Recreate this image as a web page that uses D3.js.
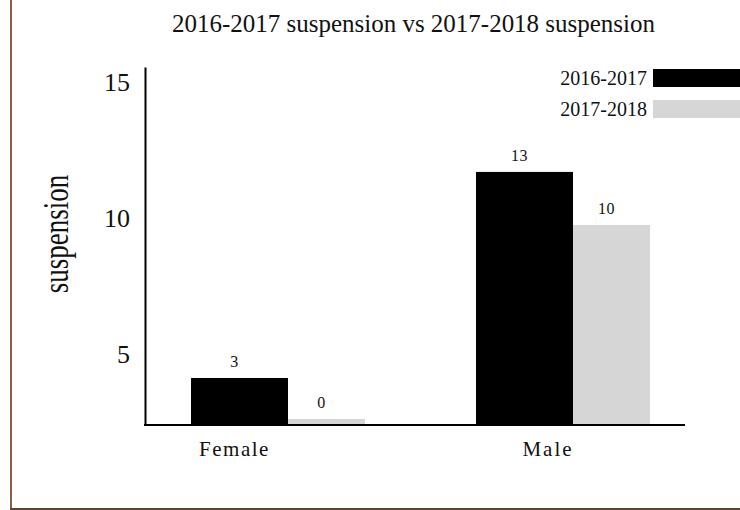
<!DOCTYPE html>
<html>
<head>
<meta charset="utf-8">
<script src="https://cdn.jsdelivr.net/npm/d3@7"></script>
<style>
  html, body { margin: 0; padding: 0; background: #fff; }
  svg { display: block; font-family: 'Liberation Serif', 'Times New Roman', serif; }
</style>
</head>
<body>
<div id="chart" data-js-graph></div>
<script>
// data
const categories = ['Female', 'Male'];
const seriesNames = ['2016-2017', '2017-2018'];
// bar heights as read against the y axis
const values2016 = [4.11, 11.69];
const values2017 = [2.6, 9.74];
// numbers printed above the bars
const labels2016 = ['3', '13'];
const labels2017 = ['0', '10'];
const yTicks = [5, 10, 15];

const SETTING = {
  width: 740,
  height: 510,
  colors: ['#000000', '#d6d6d6'],
  barWidths: [97, 77],
};

const graphWrapper = d3.select('[data-js-graph]');

const svg = graphWrapper.append('svg')
  .attr('width', SETTING.width)
  .attr('height', SETTING.height);

svg.append('rect')
  .attr('width', SETTING.width)
  .attr('height', SETTING.height)
  .attr('fill', '#fff');

// frame: brown line on the left, dark line at the bottom
svg.append('rect')
  .attr('x', 10)
  .attr('y', 0)
  .attr('width', 2)
  .attr('height', 510)
  .attr('fill', '#8c5f3f');
svg.append('rect')
  .attr('x', 10)
  .attr('y', 508)
  .attr('width', 730)
  .attr('height', 2)
  .attr('fill', '#5b4232');

// scales
const y = d3.scaleLinear()
  .domain([2.38, 15.55])
  .range([425, 67]);

const x = d3.scaleBand()
  .domain(categories)
  .range([191, 761])
  .padding(0);

const xLabel = d3.scalePoint()
  .domain(categories)
  .range([234.5, 548]);

// y axis
const yAxis = svg.append('g')
  .attr('transform', 'translate(145,0)')
  .call(d3.axisLeft(y)
    .tickValues(yTicks)
    .tickSize(0)
    .tickSizeOuter(0)
    .tickPadding(15));

yAxis.select('.domain')
  .attr('stroke', '#000')
  .attr('stroke-width', 2);
yAxis.selectAll('text')
  .attr('font-family', "'Liberation Serif', serif")
  .attr('font-size', 26)
  .attr('fill', '#111');

// x axis line
svg.append('line')
  .attr('x1', 144)
  .attr('x2', 685)
  .attr('y1', y.range()[0])
  .attr('y2', y.range()[0])
  .attr('stroke', '#000')
  .attr('stroke-width', 2);

// bars
const series = [values2016, values2017];
const labels = [labels2016, labels2017];

series.forEach((vals, s) => {
  const offset = s === 0 ? 0 : SETTING.barWidths[0];
  svg.append('g')
    .selectAll('rect')
    .data(vals)
    .enter()
    .append('rect')
    .attr('x', (d, i) => x(categories[i]) + offset)
    .attr('y', (d) => y(d))
    .attr('width', SETTING.barWidths[s])
    .attr('height', (d) => y.range()[0] - y(d) - 1)
    .attr('fill', SETTING.colors[s]);

  // value labels above the bars
  svg.append('g')
    .selectAll('text')
    .data(vals)
    .enter()
    .append('text')
    .attr('x', (d, i) => x(categories[i]) + offset + SETTING.barWidths[s] / 2 - 5)
    .attr('y', (d) => y(d) - 11)
    .attr('text-anchor', 'middle')
    .attr('font-size', 16)
    .attr('letter-spacing', 0.5)
    .attr('fill', '#111')
    .text((d, i) => labels[s][i]);
});

// category labels
svg.append('g')
  .selectAll('text')
  .data(categories)
  .enter()
  .append('text')
  .attr('x', (d) => xLabel(d))
  .attr('y', 456)
  .attr('text-anchor', 'middle')
  .attr('font-size', 21)
  .attr('letter-spacing', (d) => (d === 'Male' ? 2 : 1.5))
  .attr('fill', '#111')
  .text((d) => d);

// y axis title, narrow and tall
svg.append('text')
  .attr('transform', 'translate(68,234) rotate(-90) scale(0.75,1)')
  .attr('text-anchor', 'middle')
  .attr('font-size', 36)
  .attr('fill', '#111')
  .text('suspension');

// chart title
svg.append('text')
  .attr('x', 172)
  .attr('y', 32)
  .attr('font-size', 26)
  .attr('textLength', 483)
  .attr('lengthAdjust', 'spacingAndGlyphs')
  .attr('fill', '#111')
  .text('2016-2017 suspension vs 2017-2018 suspension');

// legend
const legend = svg.append('g')
  .selectAll('g')
  .data(seriesNames)
  .enter()
  .append('g')
  .attr('transform', (d, i) => `translate(0,${69 + i * 31})`);

legend.append('rect')
  .attr('x', 653)
  .attr('y', 0)
  .attr('width', 87)
  .attr('height', 18)
  .attr('fill', (d, i) => SETTING.colors[i]);

legend.append('text')
  .attr('x', 647)
  .attr('y', 16)
  .attr('text-anchor', 'end')
  .attr('font-size', 20)
  .attr('fill', '#111')
  .text((d) => d);
</script>
</body>
</html>
